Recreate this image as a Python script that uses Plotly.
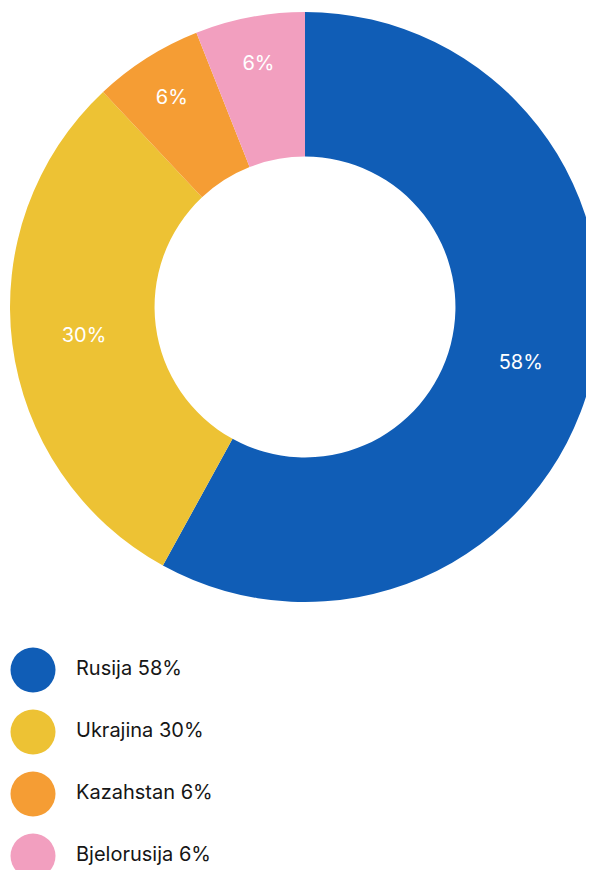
import plotly.graph_objects as go

countries = ["Rusija", "Ukrajina", "Kazahstan", "Bjelorusija"]
shares = [58, 30, 6, 6]
colors = ["#105DB6", "#EDC234", "#F59D34", "#F29FBF"]

W, H = 594, 870
legend_labels = [f"{c} {v}%" for c, v in zip(countries, shares)]
idx = list(range(len(countries)))

fig = go.Figure()
fig.add_trace(go.Pie(
    labels=countries, values=shares, sort=False, direction="clockwise", rotation=0,
    hole=0.51, marker=dict(colors=colors, line=dict(width=0)),
    texttemplate="%{value}%", textposition="inside", insidetextorientation="horizontal",
    textfont=dict(family="Inter", size=20, color="white", weight=400),
    domain=dict(x=[2/W, 592/W], y=[1 - 594/H, 1 - 4/H]),
    showlegend=False, hoverinfo="label+value",
))
fig.add_trace(go.Scatter(
    x=[25]*len(idx), y=idx, mode="markers",
    marker=dict(size=45, color=colors, line=dict(width=0)),
    xaxis="x", yaxis="y", showlegend=False, hoverinfo="skip",
))
fig.add_trace(go.Scatter(
    x=[68]*len(idx), y=idx, mode="text", text=legend_labels, textposition="middle right",
    textfont=dict(family="Inter", size=20, color="#161616"),
    xaxis="x", yaxis="y", showlegend=False, hoverinfo="skip",
))

top_px = 631
first_c = 662
step = 62
fig.update_layout(
    width=W, height=H, autosize=False,
    margin=dict(l=0, r=0, t=0, b=0),
    paper_bgcolor="white", plot_bgcolor="white",
    xaxis=dict(domain=[0, 1], range=[0, W], visible=False, fixedrange=True),
    yaxis=dict(domain=[0, (H - top_px)/H], range=[(H - first_c)/step, (top_px - first_c)/step],
               visible=False, fixedrange=True),
)
fig.write_html("out.html")
